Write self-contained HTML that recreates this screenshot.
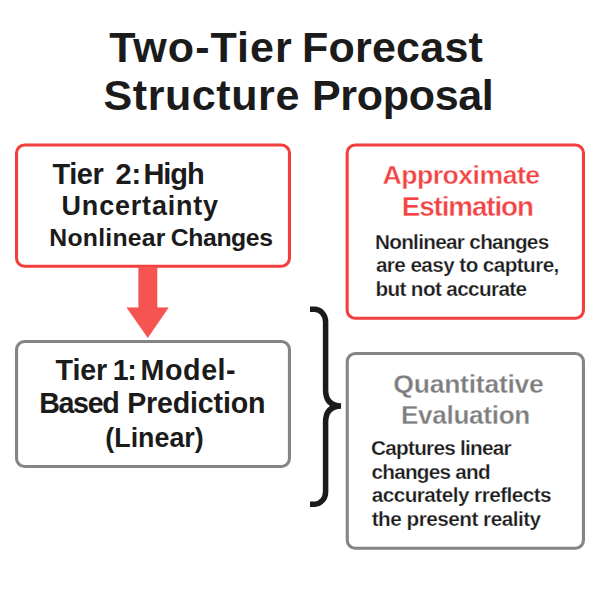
<!DOCTYPE html>
<html lang="en">
<head>
<meta charset="utf-8">
<title>Two-Tier Forecast Structure Proposal</title>
<style>
html,body{margin:0;padding:0;background:#fff;}
body{width:600px;height:600px;position:relative;overflow:hidden;font-family:"Liberation Sans",sans-serif;}
svg{position:absolute;left:0;top:0;}
.t{position:absolute;white-space:nowrap;line-height:1;font-family:"Liberation Sans",sans-serif;}
</style>
</head>
<body>
<svg width="600" height="600" viewBox="0 0 600 600">
<rect x="16.55" y="144.95" width="272.90" height="121.25" rx="8" ry="8" fill="#fff" stroke="#F23E3C" stroke-width="3.1"/>
<rect x="16.55" y="341.55" width="272.90" height="125.00" rx="8" ry="8" fill="#fff" stroke="#858585" stroke-width="3.1"/>
<rect x="347.15" y="144.95" width="236.30" height="173.25" rx="8" ry="8" fill="#fff" stroke="#F23E3C" stroke-width="3.1"/>
<rect x="347.25" y="353.55" width="236.20" height="194.65" rx="8" ry="8" fill="#fff" stroke="#858585" stroke-width="3.1"/>
<path d="M138.7 266.5 H157 V307.8 H168.2 L147.8 337.6 L127 307.8 H138.7 Z" fill="#F65450" stroke="#F2403E" stroke-width="0.5" stroke-linejoin="miter"/>
<path d="M310 309.3 H314.6 A11 12.5 0 0 1 325.6 321.8 V390 C325.6 401 331.5 405.8 341 406 C331.5 406.2 325.6 411 325.6 422 V491.7 A11 12.5 0 0 1 314.6 504.2 H310" fill="none" stroke="#1b1b1b" stroke-width="5.5" stroke-linejoin="miter"/>
</svg>
<div class="t" style="left:109.19px;top:26.42px;font-size:43.04px;font-weight:700;letter-spacing:1.032px;color:#1b1b1b;">Two-Tier</div>
<div class="t" style="left:301.92px;top:26.42px;font-size:43.04px;font-weight:700;letter-spacing:0.238px;color:#1b1b1b;">Forecast</div>
<div class="t" style="left:103.51px;top:74.42px;font-size:43.04px;font-weight:700;letter-spacing:0.572px;color:#1b1b1b;">Structure</div>
<div class="t" style="left:311.97px;top:74.42px;font-size:43.04px;font-weight:700;letter-spacing:-0.328px;color:#1b1b1b;">Proposal</div>
<div class="t" style="left:52.62px;top:160.36px;font-size:28.99px;font-weight:700;letter-spacing:-0.499px;color:#1b1b1b;">Tier</div>
<div class="t" style="left:115.62px;top:160.36px;font-size:28.99px;font-weight:700;letter-spacing:-0.349px;color:#1b1b1b;">2:</div>
<div class="t" style="left:143.41px;top:160.36px;font-size:28.99px;font-weight:700;letter-spacing:-1.013px;color:#1b1b1b;">High</div>
<div class="t" style="left:61.59px;top:193.08px;font-size:26.96px;font-weight:700;letter-spacing:0.824px;color:#1b1b1b;">Uncertainty</div>
<div class="t" style="left:49.34px;top:225.94px;font-size:24.78px;font-weight:700;letter-spacing:0.229px;color:#1b1b1b;">Nonlinear</div>
<div class="t" style="left:170.84px;top:225.94px;font-size:24.78px;font-weight:700;letter-spacing:-0.41px;color:#1b1b1b;">Changes</div>
<div class="t" style="left:55.62px;top:355.61px;font-size:28.7px;font-weight:700;letter-spacing:-0.162px;color:#1b1b1b;">Tier</div>
<div class="t" style="left:112.63px;top:355.61px;font-size:28.7px;font-weight:700;letter-spacing:-1.373px;color:#1b1b1b;">1:</div>
<div class="t" style="left:140.61px;top:355.61px;font-size:28.7px;font-weight:700;letter-spacing:0.525px;color:#1b1b1b;">Model-</div>
<div class="t" style="left:39.17px;top:388.67px;font-size:28.62px;font-weight:700;letter-spacing:-1.303px;color:#1b1b1b;">Based</div>
<div class="t" style="left:127.17px;top:388.67px;font-size:28.62px;font-weight:700;letter-spacing:-0.177px;color:#1b1b1b;">Prediction</div>
<div class="t" style="left:105.36px;top:425.21px;font-size:26.81px;font-weight:700;letter-spacing:0.004px;color:#1b1b1b;">(Linear)</div>
<div class="t" style="left:382.54px;top:162.33px;font-size:26.67px;font-weight:700;letter-spacing:-0.535px;color:#F24444;-webkit-text-stroke:0.4px #fff;">Approximate</div>
<div class="t" style="left:401.77px;top:193.34px;font-size:27.83px;font-weight:700;letter-spacing:-1.114px;color:#F24444;-webkit-text-stroke:0.4px #fff;">Estimation</div>
<div class="t" style="left:374.92px;top:232.39px;font-size:20.72px;font-weight:700;letter-spacing:-0.691px;color:#1b1b1b;-webkit-text-stroke:0.25px #fff;">Nonlinear changes</div>
<div class="t" style="left:375.95px;top:255.39px;font-size:20.72px;font-weight:700;letter-spacing:-0.591px;color:#1b1b1b;-webkit-text-stroke:0.25px #fff;">are easy to capture,</div>
<div class="t" style="left:375.42px;top:279.39px;font-size:20.72px;font-weight:700;letter-spacing:-0.63px;color:#1b1b1b;-webkit-text-stroke:0.25px #fff;">but not accurate</div>
<div class="t" style="left:393.34px;top:371.46px;font-size:26.52px;font-weight:700;letter-spacing:-0.246px;color:#7e7e7e;-webkit-text-stroke:0.3px #fff;">Quantitative</div>
<div class="t" style="left:400.93px;top:401.76px;font-size:26.16px;font-weight:700;letter-spacing:-0.318px;color:#7e7e7e;-webkit-text-stroke:0.3px #fff;">Evaluation</div>
<div class="t" style="left:371.04px;top:438.39px;font-size:20.72px;font-weight:700;letter-spacing:-0.729px;color:#1b1b1b;-webkit-text-stroke:0.25px #fff;">Captures linear</div>
<div class="t" style="left:371.46px;top:462.39px;font-size:20.72px;font-weight:700;letter-spacing:-0.743px;color:#1b1b1b;-webkit-text-stroke:0.25px #fff;">changes and</div>
<div class="t" style="left:371.75px;top:485.39px;font-size:20.72px;font-weight:700;letter-spacing:-0.537px;color:#1b1b1b;-webkit-text-stroke:0.25px #fff;">accurately rreflects</div>
<div class="t" style="left:371.72px;top:509.39px;font-size:20.72px;font-weight:700;letter-spacing:-0.505px;color:#1b1b1b;-webkit-text-stroke:0.25px #fff;">the present reality</div>
</body>
</html>
